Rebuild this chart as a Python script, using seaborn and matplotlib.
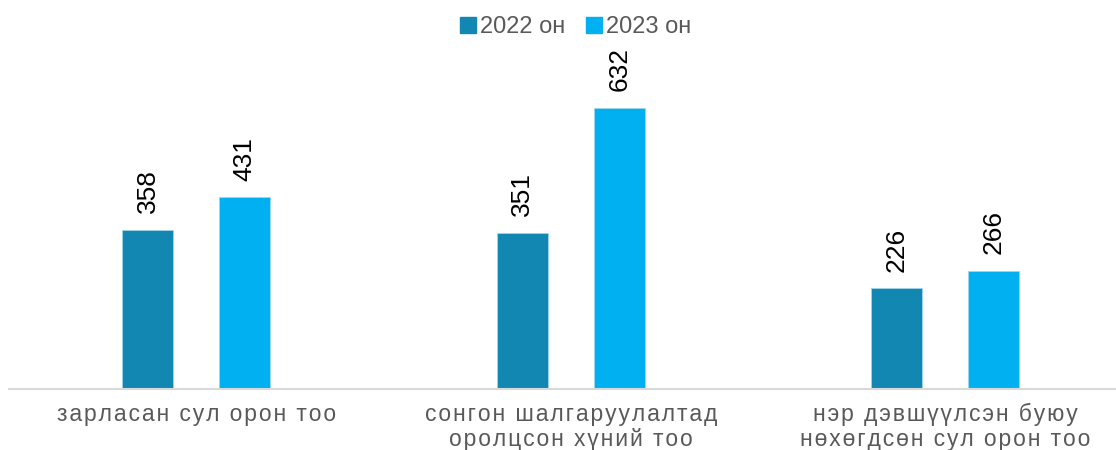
import matplotlib
matplotlib.use("Agg")
import matplotlib.pyplot as plt
from matplotlib.lines import Line2D
import seaborn as sns
import pandas as pd

# data
categories = ["зарласан сул орон тоо",
              "сонгон шалгаруулалтад\nоролцсон хүний тоо",
              "нэр дэвшүүлсэн буюу\nнөхөгдсөн сул орон тоо"]
years = ["2022 он", "2023 он"]
values_2022 = [358, 351, 226]
values_2023 = [431, 632, 266]
colors = ["#1187B2", "#00B0F0"]

df = pd.DataFrame({
    "category": categories * 2,
    "year": [years[0]] * 3 + [years[1]] * 3,
    "value": values_2022 + values_2023,
})

sns.set_theme(style="white")
plt.rcParams["font.family"] = ["Liberation Sans", "DejaVu Sans"]

fig = plt.figure(figsize=(11.16, 4.5), dpi=100)
# axes runs a bit past the right edge, like the original
ax = fig.add_axes([9 / 1116, 61 / 450, 1123.5 / 1116, 379 / 450])

sns.barplot(data=df, x="category", y="value", hue="year", palette=colors,
            saturation=1, width=0.518, gap=0.475, ax=ax, legend=False,
            edgecolor="#9fd6ea", linewidth=0.6)

for cont in ax.containers:
    ax.bar_label(cont, rotation=90, padding=12, fontsize=19, color="black")

ax.set_ylim(0, 852)
ax.set_xlim(-0.5, 2.5)
ax.set_xlabel("")
ax.set_ylabel("")
ax.set_yticks([])

# letter-spaced category labels
def spaced(s):
    return "\n".join("\u200a".join(line) for line in s.split("\n"))

ax.set_xticks(range(len(categories)))
ax.set_xticklabels([spaced(c) for c in categories], fontsize=16.5, color="#595959",
                   linespacing=1.1)
ax.tick_params(axis="x", length=0, pad=10)

for s in ["top", "right", "left"]:
    ax.spines[s].set_visible(False)
ax.spines["bottom"].set_color("#D9D9D9")
ax.spines["bottom"].set_linewidth(1.5)

handles = [Line2D([], [], marker="s", linestyle="", markersize=11,
                  markerfacecolor=c, markeredgecolor=c) for c in colors]
fig.legend(handles, years, loc="center", bbox_to_anchor=(575 / 1116, 1 - 27 / 450),
           ncol=2, frameon=False, fontsize=17, labelcolor="#595959",
           handletextpad=0.1, columnspacing=0.85, handlelength=0.8)

fig.savefig("out.png", dpi=100)
